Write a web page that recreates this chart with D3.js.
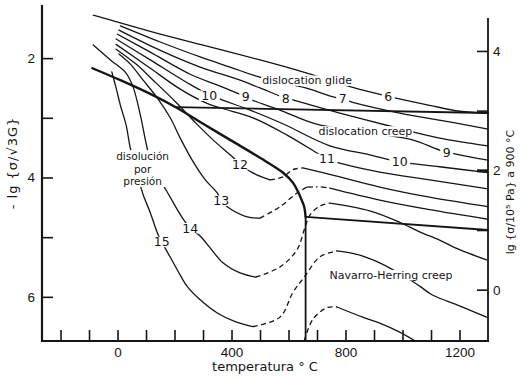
<!DOCTYPE html>
<html>
<head>
<meta charset="utf-8">
<script src="https://cdn.jsdelivr.net/npm/d3@7"></script>
<style>
  body { margin: 0; background: #fff; }
  svg { display: block; font-family: "DejaVu Sans", sans-serif; }
</style>
</head>
<body>
<svg id="chart" width="520" height="379"></svg>
<script>
// axis ticks
var tempTicks = d3.range(-200, 1201, 100);
var tempLabels = [0, 400, 800, 1200];
var leftTicks = [2, 3, 4, 5, 6];
var leftLabels = [2, 4, 6];
var rightTicks = [4, 3, 2, 1, 0];
var rightLabels = [4, 2, 0];

// mechanism boundaries, points are [temperature °C, -lg(sigma/sqrt3G)]
var boundary = [[-88, 2.17], [10, 2.37], [115, 2.60], [203, 2.82], [290, 3.07], [395, 3.37],
  [500, 3.67], [581, 3.92], [616, 4.09], [640, 4.31], [655, 4.49], [660, 4.66]];
var glideCreep = [[203, 2.82], [1300, 2.92]];
var creepNH = [[660, 4.66], [1300, 4.88]];
var nhWall = [[660, 4.66], [660, 6.74]];

// strain rate contours (-lg of strain rate), solid and dashed pieces
var c6 = { solid: [[[-85, 1.28], [115, 1.55], [290, 1.77], [500, 2.03], [650, 2.23], [825, 2.49],
  [950, 2.64], [1095, 2.79], [1200, 2.89], [1300, 2.92]]], dashed: [] };
var c7 = { solid: [[[10, 1.46], [150, 1.73], [290, 1.98], [395, 2.15], [500, 2.32], [660, 2.50],
  [750, 2.64], [790, 2.69], [825, 2.74], [990, 2.92], [1165, 3.07], [1300, 3.19]]], dashed: [] };
var c8 = { solid: [[[5, 1.53], [150, 1.87], [290, 2.15], [430, 2.37], [500, 2.50], [590, 2.67],
  [615, 2.70], [780, 2.92], [965, 3.15], [1130, 3.34], [1300, 3.47]]], dashed: [] };
var c9 = { solid: [[[0, 1.60], [115, 1.90], [255, 2.27], [360, 2.47], [450, 2.65], [470, 2.70],
  [570, 2.87], [695, 3.10], [870, 3.24], [1035, 3.37], [1130, 3.54], [1200, 3.62], [1300, 3.71]]], dashed: [] };
var c10 = { solid: [[[-5, 1.68], [115, 2.03], [240, 2.40], [325, 2.62], [465, 2.87], [580, 3.10],
  [745, 3.47], [885, 3.62], [990, 3.74], [1130, 3.82], [1300, 3.92]]], dashed: [] };
var c11 = { solid: [[[-5, 1.77], [115, 2.17], [220, 2.52], [310, 2.75], [365, 2.84], [475, 3.00],
  [595, 3.29], [700, 3.59], [735, 3.69], [780, 3.76], [920, 3.91], [1095, 4.04], [1300, 4.19]]], dashed: [] };
var c12 = {
  solid: [[[-5, 1.85], [65, 2.10], [125, 2.37], [205, 2.74], [275, 3.09], [335, 3.37], [395, 3.62],
    [430, 3.77], [470, 3.91], [535, 4.04]],
    [[650, 3.84], [755, 3.96], [920, 4.16], [1095, 4.33], [1300, 4.49]]],
  dashed: [[[535, 4.04], [580, 3.99], [615, 3.87], [650, 3.84]]]
};
var c13 = {
  solid: [[[5, 1.93], [45, 2.10], [90, 2.37], [140, 2.67], [185, 3.00], [220, 3.34], [262, 3.71],
    [308, 4.04], [350, 4.26], [364, 4.39], [385, 4.49], [455, 4.66], [500, 4.68]],
    [[745, 4.18], [920, 4.38], [1095, 4.54], [1300, 4.70]]],
  dashed: [[[500, 4.68], [570, 4.49], [630, 4.26], [665, 4.16]]],
  dashdot: [[[665, 4.16], [720, 4.16], [745, 4.18]]]
};
var c14 = {
  solid: [[[-85, 1.78], [-25, 2.03], [30, 2.25], [55, 2.49], [80, 2.95], [100, 3.42], [115, 3.71],
    [150, 4.04], [180, 4.29], [228, 4.68], [255, 4.85], [290, 4.98], [325, 5.18], [370, 5.43],
    [430, 5.60], [485, 5.67]],
    [[745, 4.43], [885, 4.56], [990, 4.75], [1060, 4.91], [1130, 5.05], [1200, 5.21], [1295, 5.38]]],
  dashed: [[[485, 5.67], [570, 5.50], [630, 5.21], [655, 4.88], [675, 4.63], [710, 4.48], [745, 4.43]]]
};
var c15 = {
  solid: [[[-20, 2.23], [-5, 2.50], [10, 2.79], [30, 3.12], [45, 3.51], [70, 3.96], [90, 4.29],
    [115, 4.59], [140, 4.93], [155, 5.08], [175, 5.25], [210, 5.55], [245, 5.83], [290, 6.05],
    [350, 6.27], [415, 6.42], [475, 6.50]],
    [[770, 5.23], [850, 5.30], [920, 5.43], [1015, 5.68], [1060, 5.82], [1105, 5.97], [1200, 6.15], [1295, 6.34]]],
  dashed: [[[475, 6.50], [570, 6.34], [615, 5.93], [655, 5.67], [710, 5.33], [770, 5.23]]]
};
var c16 = {
  solid: [[[770, 6.17], [860, 6.34], [920, 6.44], [990, 6.59], [1045, 6.74]]],
  dashed: [[[655, 6.74], [685, 6.38], [735, 6.18], [770, 6.17]]]
};
var contours = [c6, c7, c8, c9, c10, c11, c12, c13, c14, c15, c16];

// contour numbers on the lines: [text, T, value]
var contourLabels = [["6", 950, 2.64], ["7", 790, 2.68], ["8", 590, 2.67], ["9", 450, 2.65],
  ["10", 322, 2.63], ["9", 1155, 3.58], ["10", 990, 3.74], ["11", 735, 3.69], ["12", 430, 3.78],
  ["13", 364, 4.39], ["14", 255, 4.85], ["15", 155, 5.08]];

// field names
var fieldNames = ["dislocation glide", "dislocation creep", "Navarro-Herring creep"];
var fieldAt = [[665, 2.37], [870, 3.22], [960, 5.63]];
var pressureLines = ["disolución", "por", "presión"];
var pressureAt = [[88, 3.64], [88, 3.855], [88, 4.07]];

var svg = d3.select("#chart");

var x = d3.scaleLinear().domain([-265, 1300]).range([42, 488]);
var y = d3.scaleLinear().domain([1.11, 6.74]).range([5, 341]);
var yRight = d3.scaleLinear().domain([4.77, -0.86]).range([5, 341]);

var smooth = d3.line()
  .x(function(d) { return x(d[0]); })
  .y(function(d) { return y(d[1]); })
  .curve(d3.curveCatmullRom.alpha(0.5));
var straight = d3.line()
  .x(function(d) { return x(d[0]); })
  .y(function(d) { return y(d[1]); });

var ink = "#151515";
var plot = svg.append("g").attr("fill", "none").attr("stroke", ink).attr("stroke-linecap", "round");

// contours
contours.forEach(function(c) {
  c.solid.forEach(function(p) {
    plot.append("path").attr("d", smooth(p)).attr("stroke-width", 1.3);
  });
  c.dashed.forEach(function(p) {
    plot.append("path").attr("d", smooth(p)).attr("stroke-width", 1.3)
      .attr("stroke-dasharray", "5,3.5").attr("stroke-linecap", "butt");
  });
  (c.dashdot || []).forEach(function(p) {
    plot.append("path").attr("d", smooth(p)).attr("stroke-width", 1.3)
      .attr("stroke-dasharray", "6,3,1.5,3").attr("stroke-linecap", "butt");
  });
});

// boundaries
plot.append("path").attr("d", smooth(boundary)).attr("stroke-width", 2.4);
plot.append("path").attr("d", straight(glideCreep)).attr("stroke-width", 1.8);
plot.append("path").attr("d", straight(creepNH)).attr("stroke-width", 1.8);
plot.append("path").attr("d", straight(nhWall)).attr("stroke-width", 1.8);

// text with a white patch behind it, to break the lines
function patchedText(lines, at, size, padX, shrink) {
  var g = svg.append("g");
  lines.forEach(function(t, i) {
    g.append("text")
      .attr("x", x(at[i][0])).attr("y", y(at[i][1]))
      .attr("dy", "0.36em")
      .attr("text-anchor", "middle")
      .style("font-size", size + "px")
      .attr("fill", ink)
      .text(t);
  });
  var b = g.node().getBBox();
  g.insert("rect", "text")
    .attr("x", b.x - padX).attr("y", b.y + b.height * shrink / 2)
    .attr("width", b.width + 2 * padX).attr("height", b.height * (1 - shrink))
    .attr("fill", "#fff");
}

contourLabels.forEach(function(l) {
  patchedText([l[0]], [[l[1], l[2]]], 12.5, 2.5, 0.3);
});
fieldNames.forEach(function(n, i) {
  patchedText([n], [fieldAt[i]], 11, 1, 0.2);
});
patchedText(pressureLines, pressureAt, 10.5, 1, 0.02);

// axes
var axes = svg.append("g").style("font-family", "'DejaVu Sans Condensed', 'DejaVu Sans', sans-serif");

var bottom = axes.append("g").attr("transform", "translate(0,341)")
  .call(d3.axisBottom(x).tickValues(tempTicks).tickSizeInner(-11).tickSizeOuter(0).tickPadding(6)
    .tickFormat(function(d) { return tempLabels.indexOf(d) >= 0 ? d : ""; }));
var left = axes.append("g").attr("transform", "translate(42,0)")
  .call(d3.axisLeft(y).tickValues(leftTicks).tickSizeInner(-11).tickSizeOuter(0).tickPadding(7)
    .tickFormat(function(d) { return leftLabels.indexOf(d) >= 0 ? d : ""; }));
var right = axes.append("g").attr("transform", "translate(488,0)")
  .call(d3.axisRight(yRight).tickValues(rightTicks).tickSizeInner(-11).tickSizeOuter(0).tickPadding(5)
    .tickFormat(function(d) { return rightLabels.indexOf(d) >= 0 ? d : ""; }));

axes.selectAll(".domain").remove();
axes.selectAll(".tick line").attr("stroke", ink).attr("stroke-width", 1.6);
axes.selectAll(".tick text").attr("fill", ink).style("font-size", "13.5px");
right.selectAll(".tick line").filter(function(d) { return d === 2; }).attr("stroke-width", 3);

// axis lines
axes.append("line").attr("x1", 42).attr("x2", 42).attr("y1", 5).attr("y2", 342)
  .attr("stroke", ink).attr("stroke-width", 2.2);
axes.append("line").attr("x1", 41).attr("x2", 489).attr("y1", 341).attr("y2", 341)
  .attr("stroke", ink).attr("stroke-width", 2.2);
axes.append("line").attr("x1", 488).attr("x2", 488).attr("y1", 18).attr("y2", 342)
  .attr("stroke", ink).attr("stroke-width", 1.8);

// axis titles
svg.append("text").attr("transform", "translate(265,371)").attr("text-anchor", "middle")
  .style("font-size", "13px").attr("fill", ink).text("temperatura ° C");
svg.append("text").attr("transform", "translate(17,163) rotate(-90)").attr("text-anchor", "middle")
  .style("font-size", "13px").style("letter-spacing", "1px").attr("fill", ink)
  .text("- lg {σ/√3G}");
svg.append("text").attr("transform", "translate(514,192) rotate(-90)").attr("text-anchor", "middle")
  .style("font-size", "11px").attr("fill", ink)
  .text("lg {σ/10⁵ Pa}  a  900 °C");
</script>
</body>
</html>
